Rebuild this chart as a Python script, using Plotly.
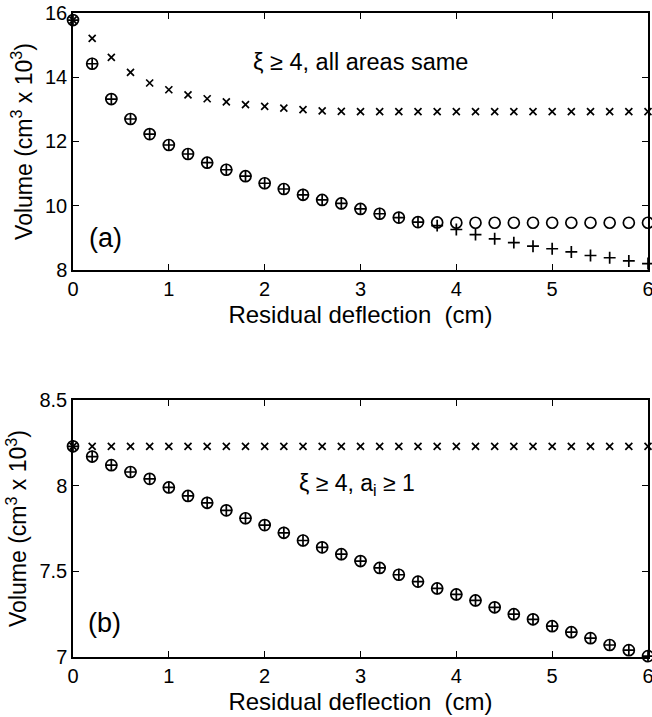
import plotly.graph_objects as go

# ---------------- data ----------------
x_vals = [round(0.2 * i, 1) for i in range(31)]

# panel (a): xi >= 4, all areas same
a_cross = [15.78, 15.21, 14.62, 14.15, 13.82, 13.61, 13.45, 13.33, 13.23, 13.15,
           13.09, 13.04, 12.99, 12.95, 12.94, 12.93, 12.93, 12.93, 12.93, 12.93,
           12.93, 12.93, 12.93, 12.93, 12.93, 12.93, 12.93, 12.93, 12.93, 12.93, 12.93]
a_circle = [15.78, 14.42, 13.32, 12.70, 12.23, 11.89, 11.61, 11.34, 11.12, 10.92,
            10.70, 10.52, 10.34, 10.18, 10.07, 9.90, 9.75, 9.63, 9.49, 9.48,
            9.47, 9.47, 9.47, 9.47, 9.47, 9.47, 9.47, 9.47, 9.47, 9.47, 9.47]
a_plus = [15.78, 14.42, 13.32, 12.70, 12.23, 11.89, 11.61, 11.34, 11.12, 10.92,
          10.70, 10.52, 10.34, 10.18, 10.07, 9.90, 9.75, 9.63, 9.49, 9.38,
          9.26, 9.10, 8.97, 8.85, 8.74, 8.66, 8.56, 8.45, 8.38, 8.28, 8.20]

# panel (b): xi >= 4, a_i >= 1
b_cross = [8.23] * 31
b_circle = [8.23, 8.17, 8.12, 8.08, 8.04, 7.99, 7.94, 7.90, 7.856, 7.81,
            7.77, 7.725, 7.68, 7.64, 7.60, 7.56, 7.52, 7.48, 7.44, 7.40,
            7.365, 7.33, 7.29, 7.25, 7.22, 7.18, 7.145, 7.11, 7.07, 7.04, 7.005]
b_plus = list(b_circle)

x_ticks = [0, 1, 2, 3, 4, 5, 6]
a_yticks = [8, 10, 12, 14, 16]
b_yticks = [7, 7.5, 8, 8.5]
b_yticklabels = ["7", "7.5", "8", "8.5"]

FONT = "Liberation Sans, Arial, Helvetica, sans-serif"
BLACK = "#000000"

fig = go.Figure()


def add_series(xaxis, yaxis, ys, symbol, size, lw=1.7):
    fig.add_trace(go.Scatter(
        x=x_vals, y=ys, mode="markers", xaxis=xaxis, yaxis=yaxis,
        cliponaxis=False, showlegend=False, hoverinfo="x+y",
        marker=dict(symbol=symbol, size=size, color=BLACK,
                    line=dict(color=BLACK, width=lw)),
    ))


add_series("x", "y", a_cross, "x-thin-open", 7)
add_series("x", "y", a_circle, "circle-open", 11)
add_series("x", "y", a_plus, "cross-thin-open", 8.5)

add_series("x2", "y2", b_cross, "x-thin-open", 7)
add_series("x2", "y2", b_circle, "circle-open", 11)
add_series("x2", "y2", b_plus, "cross-thin-open", 8.5)

axis_common = dict(
    showline=True, linecolor=BLACK, linewidth=1.5, mirror="ticks",
    ticks="inside", ticklen=6, tickwidth=1.2, tickcolor=BLACK,
    showgrid=False, zeroline=False, automargin=False,
    ticklabeloverflow="allow",
    tickfont=dict(family=FONT, size=20, color=BLACK),
)

ytitle = dict(text="Volume (cm<sup>3</sup> x 10<sup>3</sup>)",
              font=dict(family=FONT, size=23, color=BLACK), standoff=6)
xtitle = dict(text="Residual deflection  (cm)",
              font=dict(family=FONT, size=24, color=BLACK), standoff=7)

fig.update_layout(
    width=652, height=717,
    margin=dict(l=73, r=4, t=13, b=60),
    paper_bgcolor="white", plot_bgcolor="white",
    font=dict(family=FONT, color=BLACK),
    xaxis=dict(domain=[0, 1], range=[0, 6], tickvals=x_ticks, anchor="y",
               title=xtitle, **axis_common),
    yaxis=dict(domain=[0.601, 1.0], range=[8, 16], tickvals=a_yticks, anchor="x",
               title=ytitle, **axis_common),
    xaxis2=dict(domain=[0, 1], range=[0, 6], tickvals=x_ticks, anchor="y2",
                title=xtitle, **axis_common),
    yaxis2=dict(domain=[0.0, 0.399], range=[7, 8.5], tickvals=b_yticks,
                ticktext=b_yticklabels, anchor="x2",
                title=ytitle, **axis_common),
    annotations=[
        dict(text="ξ ≥ 4, all areas same", xref="x", yref="y", x=3.0, y=14.48,
             showarrow=False, font=dict(family=FONT, size=23.5, color=BLACK)),
        dict(text="(a)", xref="x", yref="y", x=0.15, y=9.01, xanchor="left",
             showarrow=False, font=dict(family=FONT, size=27, color=BLACK)),
        dict(text="ξ ≥ 4, a<sub>i</sub> ≥ 1", xref="x2", yref="y2", x=2.34, y=8.005,
             xanchor="left", showarrow=False,
             font=dict(family=FONT, size=23, color=BLACK)),
        dict(text="(b)", xref="x2", yref="y2", x=0.14, y=7.2, xanchor="left",
             showarrow=False, font=dict(family=FONT, size=27, color=BLACK)),
    ],
)

fig.write_html(
    "out.html",
    config={"displayModeBar": False},
    post_script="document.body.style.margin='0';document.body.style.overflow='hidden';",
)
